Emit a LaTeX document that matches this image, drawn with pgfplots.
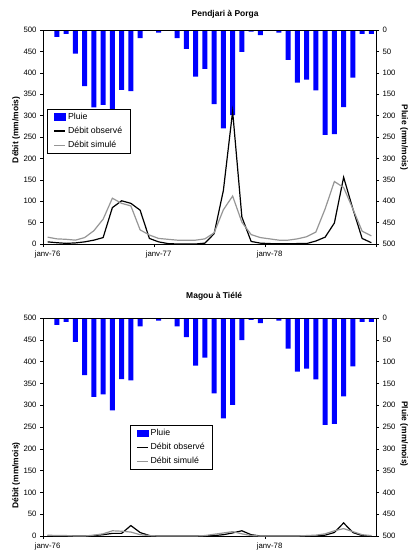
\documentclass[border=0pt]{standalone}
\usepackage{pgfplots}
\pgfplotsset{compat=1.18}
\usepackage{pgfplotstable}
\usepackage{fontspec}
\setmainfont{Liberation Sans}

\pgfplotstableread{
m    rain obsA simA obsB simB
0.5  2    5    16   1    2
1.5  16   3    12   0    1
2.5  9    1.5  11   0    1
3.5  55   2.5  9    0    0
4.5  131  5    15   0    0
5.5  181  9    31   1    2
6.5  175  15   58   3    5
7.5  212  85   107  6    12
8.5  140  101  95   6    11
9.5  143  95   89   24   9
10.5 19   79   33   8    3
11.5 0    13   21   1    1
12.5 6    5    13   0    0
13.5 0    1    11   0    0
14.5 19   0    9    0    0
15.5 44   0    9    0    0
16.5 109  0    9    0    0
17.5 91   2    12   0    1
18.5 173  24   26   1    4
19.5 230  125  80   3    7
20.5 199  310  112  7    10
21.5 51   63   51   12   5
22.5 4    6    22   3    1
23.5 12   2    15   0    0
24.5 2    1    12   0    0
25.5 6    0.5  9    0    0
26.5 70   0.5  9    0    0
27.5 123  1    12   0    0
28.5 116  1    17   0    1
29.5 141  7    28   0    2
30.5 245  16   82   2    5
31.5 243  49   146  8    12
32.5 180  156  132  30   17
33.5 111  82   82   8    10
34.5 9    13   30   1    3
35.5 9    3    19   0    1
}\data

\definecolor{simgray}{RGB}{150,150,150}

\pgfplotsset{
  every axis title shift=0pt,
  panel/.style={scale only axis, width=333bp, xmin=0, xmax=36, ymin=0, ymax=500,
    axis line style={line width=0.9bp, black}, tick align=outside,
    major tick length=3bp, tick style={line width=0.6bp, black},
    tick label style={font=\fontsize{7.8}{9}\selectfont},
    /pgf/number format/assume math mode=true,
    ytick={0,50,...,500}, clip=false},
  rainaxis/.style={panel, y dir=reverse, ytick pos=right, yticklabel pos=right, xtick=\empty,
    ylabel={Pluie (mm/mois)},
    every axis y label/.style={at={(axis description cs:1.084,#1)}, rotate=-90, anchor=center,
      font=\bfseries\fontsize{8.5}{10}\selectfont}},
  flowaxis/.style={panel, ytick pos=left, xtick pos=lower,
    xticklabel style={xshift=4.6bp},
    ylabel={Débit (mm/mois)},
    every axis y label/.style={at={(axis description cs:-0.081,#1)}, rotate=90, anchor=center,
      font=\bfseries\fontsize{8.5}{10}\selectfont},
    legend cell align=left,
    legend image code/.code={\draw[##1, line width=1.3bp] (0bp,0bp) -- (11bp,0bp);},
    legend style={anchor=north west, draw=black, line width=0.6bp, fill=white,
      font=\fontsize{8.8}{10}\selectfont, inner xsep=6bp, inner ysep=2bp, row sep=2.2bp}},
  rainlegend/.style={legend image code/.code={\fill[blue] (0bp,-3.3bp) rectangle (11.5bp,3.3bp);}},
}

\begin{document}
\begin{tikzpicture}
\path[use as bounding box] (0bp,0bp) rectangle (409bp,-559bp);

% ---------- Panel 1 ----------
\begin{axis}[rainaxis=0.498, height=214bp, at={(43bp,-244bp)}, anchor=south west]
\addplot[ybar, bar width=5bp, bar shift=0pt, fill=blue, draw=none] table[x=m,y=rain]{\data};
\end{axis}
\begin{axis}[flowaxis=0.533, height=214bp, at={(43bp,-244bp)}, anchor=south west,
  xtick={0,12,24,36}, xticklabels={janv-76,janv-77,janv-78,},
  title={Pendjari à Porga},
  title style={at={(axis description cs:0.547,1)}, anchor=base, yshift=14bp,
    font=\bfseries\fontsize{8.5}{10}\selectfont},
  legend style={at={(axis description cs:0.013,0.632)}}]
\addlegendimage{rainlegend}
\addlegendentry{Pluie}
\addplot[black, line width=1.2bp] table[x=m,y=obsA]{\data};
\addlegendentry{Débit observé}
\addplot[simgray, line width=1.2bp] table[x=m,y=simA]{\data};
\addlegendentry{Débit simulé}
\end{axis}

% ---------- Panel 2 ----------
\begin{axis}[rainaxis=0.468, height=218bp, at={(43bp,-536bp)}, anchor=south west]
\addplot[ybar, bar width=5bp, bar shift=0pt, fill=blue, draw=none] table[x=m,y=rain]{\data};
\end{axis}
\begin{axis}[flowaxis=0.277, height=218bp, at={(43bp,-536bp)}, anchor=south west,
  xtick={0,24}, xticklabels={janv-76,janv-78},
  title={Magou à Tiélé},
  title style={at={(axis description cs:0.514,1)}, anchor=base, yshift=19.5bp,
    font=\bfseries\fontsize{8.5}{10}\selectfont},
  legend style={at={(axis description cs:0.261,0.509)}}]
\addlegendimage{rainlegend}
\addlegendentry{Pluie}
\addplot[black, line width=1.2bp] table[x=m,y=obsB]{\data};
\addlegendentry{Débit observé}
\addplot[simgray, line width=1.2bp] table[x=m,y=simB]{\data};
\addlegendentry{Débit simulé}
\end{axis}
\end{tikzpicture}
\end{document}
